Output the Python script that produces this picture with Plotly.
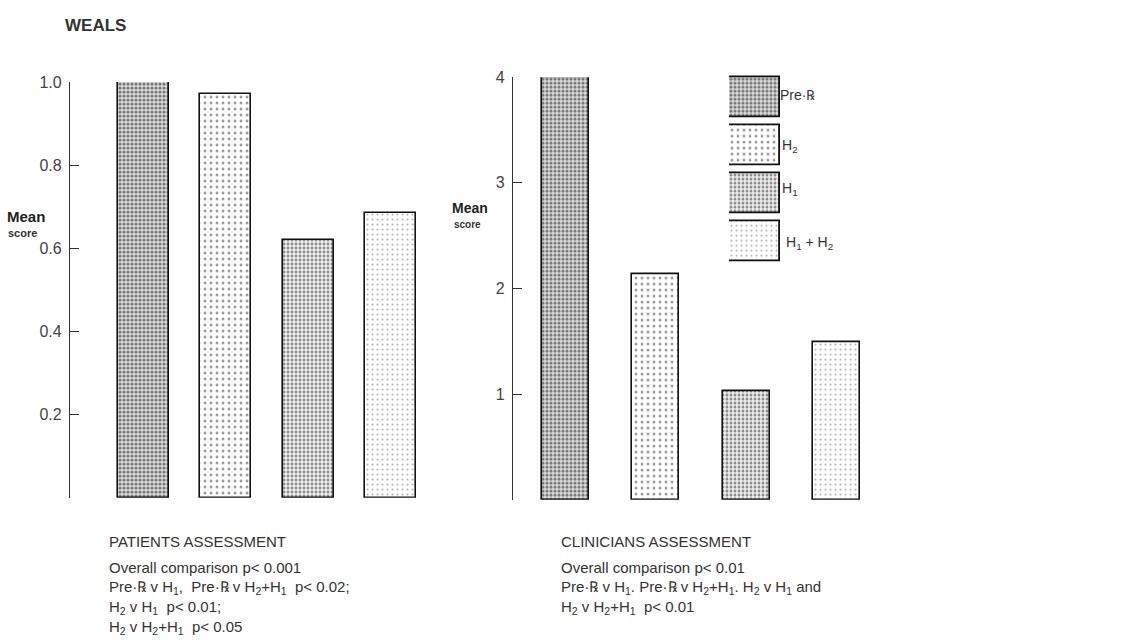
import plotly.graph_objects as go

categories = ["Pre-R", "H2", "H1", "H1+H2"]
patients_scores = [1.0, 0.97, 0.62, 0.685]
clinicians_scores = [4.0, 2.14, 1.03, 1.49]
left_tickvals = [0, 0.2, 0.4, 0.6, 0.8, 1.0]
left_ticktext = ["", "0.2", "0.4", "0.6", "0.8", "1.0"]
right_tickvals = [0, 1, 2, 3, 4]
right_ticktext = ["", "1", "2", "3", "4"]
legend_labels = ["Pre·℞", "H<sub>2</sub>", "H<sub>1</sub>", "H<sub>1</sub> + H<sub>2</sub>"]

W, H = 1141, 643
def px(x): return x / W
def py(y): return 1 - y / H

patterns = [
    dict(shape=".", fgcolor="#111111", bgcolor="#dcdcdc", size=4, solidity=0.5, fillmode="overlay"),
    dict(shape=".", fgcolor="#333333", bgcolor="white", size=6, solidity=0.18, fillmode="overlay"),
    dict(shape=".", fgcolor="#222222", bgcolor="#f0f0f0", size=4, solidity=0.42, fillmode="overlay"),
    dict(shape=".", fgcolor="#666666", bgcolor="white", size=5, solidity=0.14, fillmode="overlay"),
]

fig = go.Figure()
for i, c in enumerate(categories):
    fig.add_trace(go.Bar(x=[i], y=[patients_scores[i]], width=0.62, xaxis="x", yaxis="y",
                         marker=dict(color="white", pattern=patterns[i],
                                     line=dict(color="#111", width=1.6)),
                         showlegend=False, name=c))
    fig.add_trace(go.Bar(x=[i], y=[clinicians_scores[i]], width=0.52, xaxis="x2", yaxis="y2",
                         marker=dict(color="white", pattern=patterns[i],
                                     line=dict(color="#111", width=1.6)),
                         showlegend=False, name=c))
    fig.add_trace(go.Bar(y=[i], x=[1], width=0.84, orientation="h", xaxis="x3", yaxis="y3",
                         marker=dict(color="white", pattern=patterns[i],
                                     line=dict(color="#111", width=1.8)),
                         showlegend=False, name=c))

axis_common = dict(showgrid=False, zeroline=False, showline=True, linecolor="#333", linewidth=1.3,
                   ticks="inside", ticklen=9, tickcolor="#333", tickwidth=1.3, ticklabelstandoff=4,
                   tickfont=dict(family="Liberation Sans, Arial, sans-serif", size=16, color="#444"))

fig.update_layout(
    width=W, height=H, margin=dict(l=0, r=0, t=0, b=0),
    paper_bgcolor="white", plot_bgcolor="white", bargap=0,
    xaxis=dict(domain=[px(70), px(422)], range=[-0.89, 3.38], visible=False),
    yaxis=dict(domain=[py(496), py(75)], range=[0, 1.0], tickvals=left_tickvals,
               ticktext=left_ticktext, anchor="x", **axis_common),
    xaxis2=dict(domain=[px(513), px(880)], range=[-0.58, 3.48], visible=False),
    yaxis2=dict(domain=[py(498), py(70)], range=[0, 4.0], tickvals=right_tickvals,
                ticktext=right_ticktext, anchor="x2", **axis_common),
    xaxis3=dict(domain=[px(729), px(780)], range=[0, 1], visible=False),
    yaxis3=dict(domain=[py(260), py(66)], range=[3.5, -0.5], visible=False, anchor="x3"),
)

font = "Liberation Sans, Arial, sans-serif"
ann = []
def text(x, y, t, size=12, bold=False, color="#333"):
    ann.append(dict(x=px(x), y=py(y), xref="paper", yref="paper", text=("<b>%s</b>" % t) if bold else t,
                    showarrow=False, xanchor="left", yanchor="middle",
                    font=dict(family=font, size=size, color=color)))

text(63, 18, "WEALS", size=17, bold=True)
text(5, 211, "Mean", size=15, bold=True, color="#222")
text(6, 228, "score", size=11, bold=True, color="#333")
text(450, 203, "Mean", size=14, bold=True, color="#222")
text(452, 219, "score", size=10, bold=True, color="#333")

legend_y = [88, 140, 183, 238]
legend_x = [778, 780, 780, 784]
for lx, ly, lab in zip(legend_x, legend_y, legend_labels):
    text(lx, ly, lab, size=14, color="#333")

fs = 15
text(107, 540, "PATIENTS ASSESSMENT", size=fs)
text(107, 567, "Overall comparison p&lt; 0.001", size=fs)
text(107, 587, "Pre·℞ v H<sub>1</sub>,  Pre·℞ v H<sub>2</sub>+H<sub>1</sub>  p&lt; 0.02;", size=fs)
text(107, 607, "H<sub>2</sub> v H<sub>1</sub>  p&lt; 0.01;", size=fs)
text(107, 627, "H<sub>2</sub> v H<sub>2</sub>+H<sub>1</sub>  p&lt; 0.05", size=fs)

text(559, 540, "CLINICIANS ASSESSMENT", size=fs)
text(559, 567, "Overall comparison p&lt; 0.01", size=fs)
text(559, 587, "Pre·℞ v H<sub>1</sub>. Pre·℞ v H<sub>2</sub>+H<sub>1</sub>. H<sub>2</sub> v H<sub>1</sub> and", size=fs)
text(559, 607, "H<sub>2</sub> v H<sub>2</sub>+H<sub>1</sub>  p&lt; 0.01", size=fs)

fig.update_layout(annotations=ann)
fig.write_html("out.html", config={"displayModeBar": False},
               post_script="document.body.style.margin='0';document.body.style.overflow='hidden';")
